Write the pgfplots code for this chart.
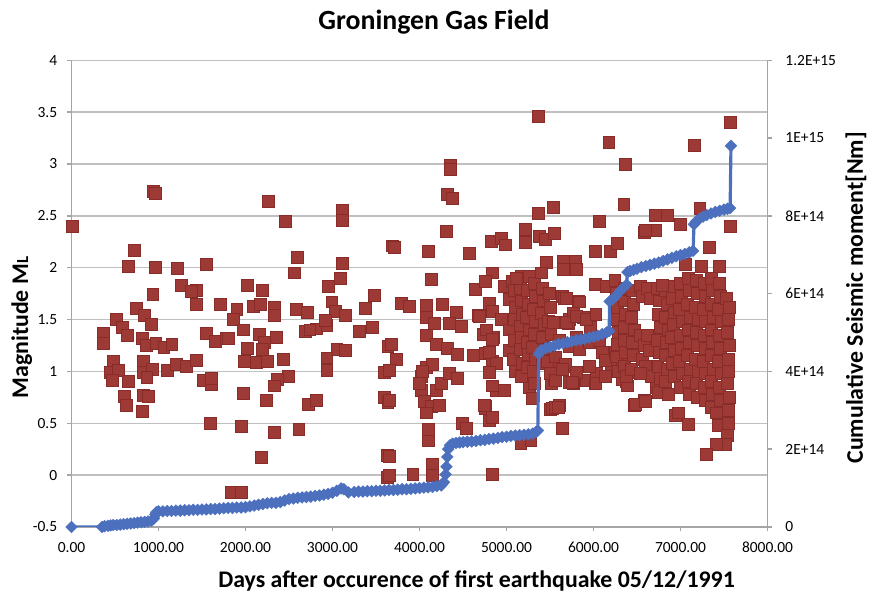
\documentclass[border=0pt]{standalone}
\usepackage{fontspec}
\setmainfont{Carlito}
\usepackage{pgfplots}
\pgfplotsset{compat=1.18}
\usetikzlibrary{calc}
\definecolor{redm}{RGB}{158,58,54}
\definecolor{redd}{RGB}{136,44,41}
\definecolor{bluem}{RGB}{76,112,190}
\definecolor{gridc}{RGB}{192,192,192}
\definecolor{axc}{RGB}{165,165,165}
\begin{document}
\begin{tikzpicture}
\begin{axis}[
  name=main, at={(0,0)}, anchor=south west,
  scale only axis, width=350.5pt, height=235pt,
  xmin=0, xmax=8000, ymin=-0.5, ymax=4,
  xtick={0,1000,...,8000}, ytick={-0.5,0,0.5,1,1.5,2,2.5,3,3.5,4},
  axis x line*=bottom, axis y line*=left,
  ymajorgrids, major grid style={gridc, line width=0.7pt},
  axis line style={axc, line width=0.7pt, -},
  tick style={axc, line width=0.7pt},
  major tick length=2.2pt, tick align=outside,
  /pgf/number format/assume math mode=true,
  ticklabel style={font=\fontsize{7.8}{9}\selectfont, text=black},
  xticklabel style={/pgf/number format/.cd, fixed, fixed zerofill, precision=2, 1000 sep={}, /tikz/.cd, yshift=-2pt},
  yticklabel style={/pgf/number format/.cd, fixed, precision=1, /tikz/.cd, xshift=-1.5pt},
]
\addplot[only marks, mark=square*, mark size=3pt, mark options={fill=redm, draw=redd, line width=0.4pt}] coordinates {
(8,2.40) (940,2.74) (965,2.72) (726,2.17) (657,2.01) (963,2.00) (1219,1.99) (1555,2.03) (1261,1.83) (1433,1.78)
(1433,1.65) (936,1.74) (1708,1.65) (745,1.61) (833,1.54) (516,1.50) (917,1.45) (581,1.42) (638,1.35) (367,1.37)
(367,1.27) (810,1.32) (856,1.25) (970,1.27) (1062,1.23) (1154,1.26) (1555,1.37) (1650,1.29) (1784,1.32) (485,1.10)
(447,0.99) (542,1.01) (466,0.91) (657,0.90) (829,1.10) (829,0.99) (932,1.02) (867,0.94) (1104,1.01) (1211,1.07)
(1318,1.05) (1433,1.11) (1517,0.91) (1604,0.87) (1604,0.93) (604,0.76) (634,0.67) (829,0.77) (886,0.76) (810,0.61)
(1597,0.50) (1377,1.77)
(2265,2.64) (2455,2.45) (3114,2.55) (3114,2.46) (3690,2.21) (2595,2.10) (2557,1.95) (3114,2.04) (3088,1.90) (2948,1.82)
(2027,1.83) (2197,1.78) (1901,1.60) (1856,1.50) (2091,1.63) (2167,1.65) (2330,1.62) (2330,1.54) (2584,1.60) (2709,1.57)
(2993,1.67) (3031,1.58) (3145,1.54) (3380,1.61) (3486,1.73) (1977,1.40) (1799,1.32) (2159,1.36) (2356,1.33) (2216,1.28)
(2690,1.39) (2815,1.41) (2936,1.44) (2917,1.49) (3304,1.39) (3455,1.42) (2027,1.22) (1989,1.10) (2121,1.09) (2254,1.10)
(2190,1.21) (2436,1.12) (3050,1.21) (3145,1.20) (2936,1.13) (2936,1.01) (3637,1.24) (3600,0.99) (2493,0.95) (2368,0.92)
(2337,0.86) (1977,0.79) (2243,0.72) (2728,0.68) (2811,0.72) (3600,0.75) (3637,0.70) (1958,0.47) (2337,0.41) (2614,0.44)
(2186,0.17) (3626,0.19) (3626,-0.02) (1837,-0.17) (1951,-0.17) (2740,1.40)
(5368,3.46) (4351,2.99) (4351,2.95) (4317,2.71) (4374,2.67) (5368,2.52) (5540,2.58) (4306,2.35) (3713,2.20) (4103,2.16)
(4573,2.14) (4821,2.25) (4936,2.28) (4985,2.22) (5222,2.37) (5222,2.24) (5383,2.30) (5452,2.27) (4141,1.89) (4840,1.95)
(4642,1.79) (4756,1.87) (4974,1.82) (5069,1.87) (5165,1.92) (5260,1.92) (3790,1.66) (3885,1.63) (4076,1.64) (4267,1.65)
(4420,1.57) (4076,1.52) (4172,1.46) (4344,1.46) (4478,1.43) (4680,1.54) (4802,1.66) (4840,1.58) (4936,1.50) (4737,1.36)
(4852,1.33) (4076,1.35) (4191,1.26) (4325,1.22) (4439,1.16) (3675,1.26) (3732,1.12) (3656,1.01) (3656,0.72) (4622,1.15)
(4756,1.17) (4840,1.10) (5031,1.20)
(4076,1.04) (4153,1.07) (4019,0.95) (4019,0.82) (4057,0.71) (4134,0.66) (4229,0.67) (4191,0.82) (4248,0.88) (4344,0.98)
(4439,0.93) (4000,0.88) (4030,1.00) (4080,0.60)
(4756,0.66) (4878,0.82) (4974,0.82) (4802,0.53) (4752,0.64) (4497,0.50) (4535,0.45) (4103,0.44) (4103,0.33) (3656,0.18)
(3656,0.00) (3924,0.01) (4153,0.10) (4153,0.00) (4833,0.01) (5509,0.63) (5517,0.88) (5260,0.85) (5299,0.74) (5165,0.31)
(5280,0.33)
(4688,1.53) (4765,1.40) (4841,1.31) (4803,1.18) (4879,1.08) (4803,0.99) (4841,0.86) (4746,0.67) (4841,0.56) (5032,1.69)
(5032,1.40) (5548,0.93) (5567,1.05) (5681,1.05) (5720,0.89) (5605,0.67) (5643,0.45) (5529,0.64) (5720,1.50) (5643,1.72)
(5090,1.78) (5100,1.62) (5085,1.50) (5095,1.30) (5080,1.12) (5105,1.00)
(5160,1.80) (5170,1.68) (5180,1.55) (5155,1.43) (5175,1.33) (5160,1.21) (5180,1.08) (5170,0.95)
(5240,1.78) (5250,1.65) (5230,1.52) (5260,1.40) (5245,1.28) (5255,1.16) (5240,1.04)
(5320,1.85) (5330,1.72) (5310,1.60) (5335,1.48) (5320,1.36) (5300,1.23) (5330,1.12) (5310,1.00) (5320,0.88)
(5410,1.80) (5420,1.68) (5400,1.56) (5430,1.45) (5415,1.33) (5440,1.20) (5410,1.08)
(5490,1.75) (5500,1.62) (5480,1.48) (5510,1.36) (5495,1.22) (5470,1.10) (5500,0.98)
(5460,2.05) (5400,1.95) (5110,1.90)
(6177,3.21) (6368,3.00) (6349,2.61) (6067,2.45) (5548,2.33) (6581,2.34) (6712,2.50) (6845,2.50) (6712,2.36) (6017,2.16)
(6189,2.16) (6276,2.23) (5655,2.06) (5788,2.06) (5655,1.98) (5807,1.98) (6017,1.84) (6143,1.82) (6246,1.88) (5662,1.70)
(5826,1.68) (6646,1.80) (6722,1.74) (5769,1.56) (5883,1.52) (5540,1.47) (5712,1.46) (5960,1.42) (5807,1.33) (5559,1.14)
(5674,1.07) (5559,0.91) (5769,0.88) (5921,0.91) (6017,0.88) (6036,0.98) (6208,1.07) (6380,0.90) (6418,0.99) (5559,0.65)
(5597,0.65) (6475,0.67) (6589,0.72) (5643,0.45) (6722,0.85) (6598,2.36)
(5685,1.70) (5837,1.67) (5685,1.47) (5799,1.53) (5913,1.50) (6027,1.55) (5609,1.30) (5723,1.24) (5837,1.21) (5951,1.28)
(6065,1.30) (6103,1.18) (6141,1.11) (6256,1.18) (6332,1.08) (5951,1.05) (5799,0.99) (5647,1.02) (5761,0.89) (6027,0.88)
(6141,0.95) (6332,0.92) (6389,0.86) (6484,0.68) (6598,0.71) (5647,0.45)
(6260,1.75) (6270,1.62) (6260,1.50) (6280,1.38) (6270,1.26) (6265,1.14) (6280,1.00)
(6360,1.80) (6350,1.68) (6370,1.55) (6350,1.42) (6360,1.30) (6370,1.18) (6350,1.05) (6380,0.95)
(6450,1.78) (6460,1.65) (6440,1.52) (6470,1.40) (6450,1.28) (6460,1.15) (6440,1.02)
(6540,1.82) (6560,1.72) (6620,1.80) (6650,1.70) (6540,1.35) (6580,1.25) (6620,1.35) (6560,1.12) (6640,1.20) (6600,1.05)
(6660,0.95) (6540,0.98)
(6730,1.80) (6760,1.68) (6740,1.55) (6770,1.42) (6730,1.30) (6760,1.18) (6740,1.05) (6770,0.93) (6750,0.80)
(6830,1.78) (6850,1.65) (6820,1.52) (6860,1.40) (6840,1.28) (6820,1.15) (6850,1.02) (6830,0.90) (6860,0.78)
(6920,1.82) (6910,1.70) (6930,1.57) (6920,1.45) (6900,1.33) (6930,1.20) (6910,1.08) (6930,0.95)
(7000,1.85) (7010,1.72) (6990,1.60) (7020,1.48) (7000,1.35) (7010,1.22) (6990,1.10) (7020,0.98) (7000,0.85)
(7090,1.90) (7100,1.78) (7080,1.65) (7110,1.52) (7090,1.40) (7100,1.28) (7080,1.15) (7110,1.02) (7090,0.90) (7100,0.78) (7089,0.49)
(7180,1.88) (7190,1.75) (7170,1.62) (7200,1.50) (7180,1.38) (7190,1.25) (7170,1.12) (7200,1.00) (7180,0.88) (7190,0.75)
(7270,1.85) (7280,1.72) (7260,1.60) (7290,1.48) (7270,1.35) (7280,1.22) (7260,1.10) (7290,0.98) (7270,0.85) (7280,0.72)
(7360,1.90) (7370,1.78) (7350,1.65) (7380,1.52) (7360,1.40) (7370,1.28) (7350,1.15) (7380,1.02) (7360,0.90) (7370,0.78) (7350,0.65)
(7450,1.85) (7460,1.72) (7440,1.60) (7470,1.48) (7450,1.35) (7460,1.22) (7440,1.10) (7470,0.98) (7450,0.85) (7460,0.72) (7440,0.60) (7430,0.48)
(7530,1.70) (7555,1.50) (7540,1.38) (7560,1.25) (7545,1.12) (7555,1.00) (7535,0.88) (7560,0.75) (7545,0.62) (7555,0.50) (7540,0.38) (7520,0.30)
(7413,0.30) (7299,0.20) (7560,1.62)
(7577,3.40) (7158,3.18) (7223,2.57) (7577,2.40) (6994,2.42) (7337,2.20) (7059,2.03) (7242,2.01) (7452,2.01) (6793,1.83)
(6937,0.58) (7413,0.60) (6979,0.60)
};
\end{axis}
\begin{axis}[
  at={(main.south west)}, anchor=south west,
  scale only axis, width=350.5pt, height=235pt,
  xmin=0, xmax=8000, ymin=0, ymax=12,
  axis x line=none, axis y line*=right,
  ytick={0,2,4,6,8,10,12},
  yticklabels={0,2E+14,4E+14,6E+14,8E+14,1E+15,1.2E+15},
  axis line style={axc, line width=0.7pt, -},
  tick style={axc, line width=0.7pt},
  major tick length=2.5pt, tick align=outside,
  ticklabel style={font=\fontsize{7.8}{9}\selectfont, text=black},
  yticklabel style={xshift=3pt},
]
\addplot[bluem, line width=1.6pt, mark=square*, mark size=2.1pt, mark options={rotate=45, fill=bluem, draw=bluem, line width=0.2pt}] coordinates {
(0,0) (351,0) (380,0.02) (420,0.03) (450,0.04) (480,0.05) (520,0.05) (560,0.06) (600,0.07) (640,0.08)
(680,0.09) (720,0.10) (760,0.11) (800,0.12) (840,0.13) (880,0.14) (920,0.16) (950,0.22) (963,0.32) (975,0.38)
(1000,0.40) (1050,0.40) (1100,0.41) (1150,0.41) (1200,0.42) (1250,0.42) (1300,0.43) (1350,0.43) (1400,0.44) (1450,0.44)
(1500,0.45) (1550,0.45) (1600,0.46) (1650,0.46) (1700,0.47) (1750,0.48) (1800,0.49) (1850,0.49) (1900,0.50) (1950,0.50)
(2000,0.51) (2050,0.53) (2100,0.55) (2150,0.57) (2200,0.59) (2250,0.61) (2300,0.62) (2350,0.62) (2400,0.64) (2450,0.68)
(2500,0.72) (2550,0.73) (2600,0.75) (2650,0.76) (2700,0.77) (2750,0.78) (2800,0.80) (2850,0.81) (2900,0.83) (2950,0.85)
(3000,0.88) (3050,0.93) (3100,0.99) (3130,0.97) (3182,0.89) (3250,0.90) (3300,0.91) (3350,0.91) (3400,0.92) (3450,0.92)
(3500,0.93) (3550,0.93) (3600,0.94) (3650,0.95) (3700,0.95) (3750,0.96) (3800,0.97) (3850,0.97) (3900,0.98) (3950,0.99)
(4000,1.00) (4050,1.01) (4100,1.02) (4150,1.03) (4200,1.05) (4250,1.07) (4280,1.15) (4300,1.35) (4310,1.55) (4320,1.80)
(4330,2.00) (4350,2.10) (4380,2.14) (4420,2.16) (4460,2.17) (4500,2.18) (4550,2.19) (4600,2.20) (4650,2.21) (4700,2.23)
(4750,2.24) (4800,2.26) (4850,2.27) (4900,2.29) (4950,2.31) (5000,2.32) (5050,2.34) (5100,2.35) (5150,2.36) (5200,2.37)
(5250,2.38) (5300,2.40) (5340,2.44) (5360,2.48) (5370,4.45) (5400,4.55) (5450,4.60) (5500,4.63) (5550,4.66) (5600,4.70)
(5650,4.72) (5700,4.75) (5750,4.77) (5800,4.80) (5850,4.82) (5900,4.84) (5950,4.87) (6000,4.89) (6050,4.92) (6100,4.96)
(6150,5.00) (6180,5.04) (6185,5.80) (6220,5.86) (6260,5.95) (6300,6.05) (6340,6.14) (6380,6.23) (6390,6.55) (6420,6.58)
(6460,6.61) (6500,6.64) (6550,6.68) (6600,6.71) (6650,6.74) (6700,6.77) (6750,6.80) (6800,6.84) (6850,6.88) (6900,6.92)
(6950,6.96) (7000,6.99) (7050,7.02) (7100,7.06) (7145,7.10) (7155,7.78) (7180,7.86) (7220,7.93) (7260,7.98) (7300,8.02)
(7350,8.06) (7400,8.10) (7450,8.13) (7500,8.16) (7540,8.18) (7570,8.20) (7580,9.80)
};
\end{axis}
\node[font=\bfseries\fontsize{14}{16}\selectfont] at ($(main.south west)+(182.5pt,254.4pt)$) {Groningen Gas Field};
\node[font=\bfseries\fontsize{12}{14}\selectfont] at ($(main.south west)+(204pt,-27.2pt)$) {Days after occurence of first earthquake 05/12/1991};
\node[rotate=90, font=\bfseries\fontsize{12}{14}\selectfont] at ($(main.south west)+(-25pt,100.4pt)$) {Magnitude M{\fontsize{8.5}{10}\selectfont L}};
\node[rotate=90, font=\bfseries\fontsize{12}{14}\selectfont] at ($(main.south west)+(395pt,115.4pt)$) {Cumulative Seismic moment[Nm]};
\path ($(main.south west)+(-36pt,-33.65pt)$) rectangle ($(main.south west)+(400.5pt,265.35pt)$);
\end{tikzpicture}
\end{document}
